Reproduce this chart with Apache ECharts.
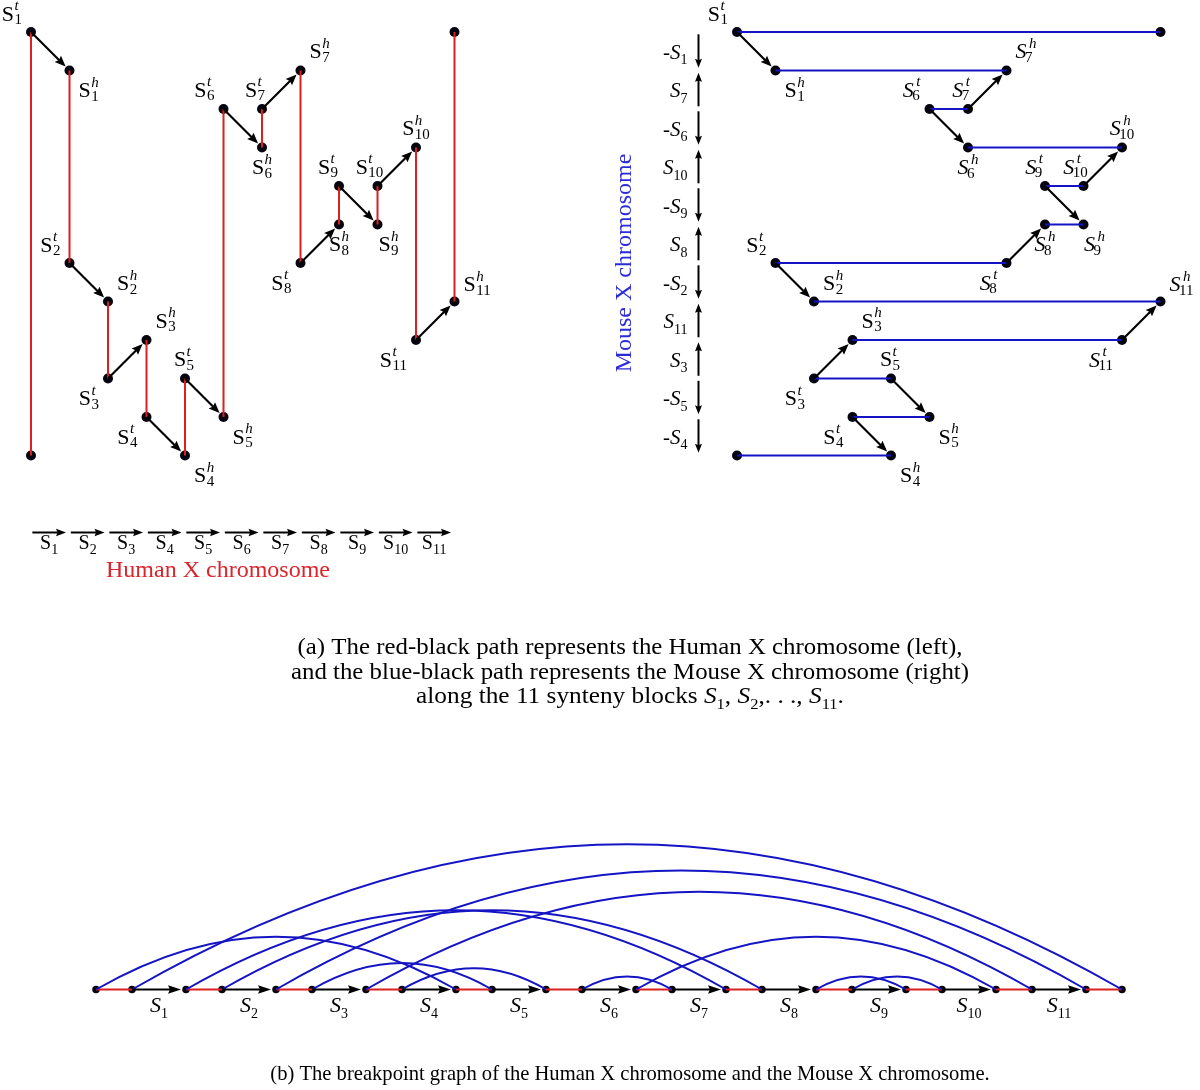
<!DOCTYPE html>
<html>
<head>
<meta charset="utf-8">
<title>Human vs Mouse X chromosome breakpoint graph</title>
<script src="https://cdn.jsdelivr.net/npm/echarts@6.0.0/dist/echarts.min.js"></script>
<style>
html,body{margin:0;padding:0;background:#ffffff;}
#chart{width:1200px;height:1090px;}
</style>
</head>
<body>
<div id="chart"></div>
<script>
// ---------------- data ----------------
const blocks = ['1','2','3','4','5','6','7','8','9','10','11'];
// row of each block's tail / head extremity in the top panels (column = block index / index+1)
const tailRow = [0, 6, 9, 10, 9, 2, 2, 6, 4, 4, 8];
const headRow = [1, 7, 8, 11, 10, 3, 1, 5, 5, 3, 7];
// telomere nodes [column, row]
const startNode = [0, 11];
const endNode = [11, 0];
// adjacencies (L = start telomere, R = end telomere)
const humanAdj = [['L','1t'],['1h','2t'],['2h','3t'],['3h','4t'],['4h','5t'],['5h','6t'],['6h','7t'],['7h','8t'],['8h','9t'],['9h','10t'],['10h','11t'],['11h','R']];
const mouseAdj = [['R','1t'],['1h','7h'],['7t','6t'],['6h','10h'],['10t','9t'],['9h','8h'],['8t','2t'],['2h','11h'],['11t','3h'],['3t','5t'],['5h','4t'],['4h','L']];
// signed block order along the mouse chromosome (top to bottom)
const mouseOrder = ['-1','7','-6','10','-9','8','-2','11','3','-5','-4'];
// texts
const humanTitle = 'Human X chromosome';
const mouseTitle = 'Mouse X chromosome';
const captionA1 = '(a) The red-black path represents the Human X chromosome (left),';
const captionA2 = 'and the blue-black path represents the Mouse X chromosome (right)';
const captionA3 = 'along the 11 synteny blocks ';
const captionB = '(b) The breakpoint graph of the Human X chromosome and the Mouse X chromosome.';

// ---------------- styles / layout ----------------
const FAM = '"Liberation Serif","Times New Roman",serif';
const RED = '#dc1f1f', BLUE = '#1414c4', RED_TXT = '#d9262c', BLUE_TXT = '#2a2ad8', NODE = '#05050f';
// label placement: [anchor, dx px, dy px] (anchor r = right edge, l = left edge, c = centre)
const labelPlace = {
  '1t':['r',-9,-17],'1h':['l',9,21],'2t':['r',-9,-17],'2h':['l',9,-17],'3t':['r',-9,21],'3h':['l',9,-18],
  '4t':['r',-9,21],'4h':['l',9,21],'5t':['c',-1,-18],'5h':['l',9,21],'6t':['r',-9,-18],'6h':['c',0,21],
  '7t':['c',-7,-18],'7h':['l',9,-18],'8t':['r',-9,21],'8h':['c',0,21],'9t':['c',-11,-18],'9h':['c',11,21],
  '10t':['c',-8,-18],'10h':['c',0,-18],'11t':['r',-9,21],'11h':['l',9,-16]
};

const mctx = document.createElement('canvas').getContext('2d');
function tw(t, size, st) { mctx.font = (st || 'normal') + ' ' + size + 'px ' + FAM; return mctx.measureText(t).width; }

function topPos(e) {
  if (e === 'L') return startNode;
  if (e === 'R') return endNode;
  const i = parseInt(e, 10) - 1;
  return e.endsWith('t') ? [i, tailRow[i]] : [i + 1, headRow[i]];
}
function extIdx(e) {
  if (e === 'L') return 0;
  if (e === 'R') return 2 * blocks.length + 1;
  const i = parseInt(e, 10);
  return e.endsWith('t') ? 2 * i - 1 : 2 * i;
}
const RED_LEN = 1, ARROW_LEN = 1.5;
function botX(e) { const n = extIdx(e); return (RED_LEN + ARROW_LEN) * Math.floor(n / 2) + (n % 2) * RED_LEN; }

const extremities = blocks.flatMap(b => [b + 't', b + 'h']);
const humanTop = humanAdj.map(([a, b]) => topPos(a).concat(topPos(b)));
const mouseTop = mouseAdj.map(([a, b]) => topPos(a).concat(topPos(b)));
const blockTop = blocks.map(b => topPos(b + 't').concat(topPos(b + 'h')));
const nodeTop = ['L', 'R'].concat(extremities).map(topPos);
const labelTop = extremities.map(topPos);
const rowArrows = blocks.map((b, i) => [i, 13, i + 1, 13]);
const mouseArrows = mouseOrder.map((s, k) => [-1, k, -1, k + 1, s.startsWith('-') ? 1 : -1]);
const humanBot = humanAdj.map(([a, b]) => [botX(a), 0, botX(b), 0]);
const mouseBot = mouseAdj.map(([a, b]) => [botX(a), 0, botX(b), 0]);
const blockBot = blocks.map(b => [botX(b + 't'), 0, botX(b + 'h'), 0]);
const nodeBot = ['L'].concat(extremities, ['R']).map(e => [botX(e), 0]);

// ---------------- render helpers ----------------
function P(api, i) { return api.coord([api.value(i), api.value(i + 1)]); }
function segRender(color, w) {
  return (params, api) => {
    const a = P(api, 0), b = P(api, 2);
    return { type: 'line', shape: { x1: a[0], y1: a[1], x2: b[0], y2: b[1] }, style: { stroke: color, lineWidth: w, fill: null } };
  };
}
function arrowShape(a, b, o) {
  const dx = b[0] - a[0], dy = b[1] - a[1], L = Math.hypot(dx, dy), ux = dx / L, uy = dy / L, px = -uy, py = ux;
  const sx = a[0] + ux * (o.s || 0), sy = a[1] + uy * (o.s || 0);
  const tx = b[0] - ux * (o.e || 0), ty = b[1] - uy * (o.e || 0);
  const bx = tx - ux * o.hl, by = ty - uy * o.hl, hw = o.hw / 2, n = o.hl * 0.15;
  return { type: 'group', children: [
    { type: 'line', shape: { x1: sx, y1: sy, x2: bx + ux * 2, y2: by + uy * 2 }, style: { stroke: '#000', lineWidth: o.w, fill: null } },
    { type: 'polygon', shape: { points: [[tx, ty], [bx + px * hw, by + py * hw], [bx + ux * n, by + uy * n], [bx - px * hw, by - py * hw]] }, style: { fill: '#000', stroke: null } }
  ] };
}
function arrowRender(o) { return (params, api) => arrowShape(P(api, 0), P(api, 2), o); }
function arcRender(params, api) {
  let a = P(api, 0), b = P(api, 2);
  if (a[0] > b[0]) { const t = a; a = b; b = t; }
  const d = b[0] - a[0], k = 0.3915 * d, c = Math.cos(Math.PI / 6) * k, s = Math.sin(Math.PI / 6) * k;
  return { type: 'bezierCurve', shape: { x1: a[0], y1: a[1], x2: b[0], y2: b[1], cpx1: a[0] + c, cpy1: a[1] - s, cpx2: b[0] - c, cpy2: b[1] - s },
    style: { stroke: BLUE, lineWidth: 2, fill: null } };
}
function nodeLabelRender(italicFrom) {
  return (params, api) => {
    const key = extremities[params.dataIndex];
    const p = api.coord([api.value(0), api.value(1)]);
    const num = parseInt(key, 10), sup = key.slice(-1);
    const it = num >= italicFrom;
    const pl = labelPlace[key];
    const BS = 22, SS = 15;
    const wS = tw('S', BS, it ? 'italic' : 'normal');
    const supOff = it ? 2.5 : 0.5, subOff = it ? -1.5 : 0.5;
    const wSup = tw(sup, SS, 'italic'), wSub = tw(String(num), SS, 'normal');
    const total = wS + Math.max(supOff + wSup, subOff + wSub);
    const x0 = pl[0] === 'r' ? p[0] + pl[1] - total : pl[0] === 'l' ? p[0] + pl[1] : p[0] + pl[1] - total / 2;
    const cy = p[1] + pl[2];
    const base = { fill: '#000', fontFamily: FAM, align: 'left', verticalAlign: 'middle' };
    return { type: 'group', children: [
      { type: 'text', style: Object.assign({ text: 'S', x: x0, y: cy, fontSize: BS, fontStyle: it ? 'italic' : 'normal' }, base) },
      { type: 'text', style: Object.assign({ text: sup, x: x0 + wS + supOff, y: cy - 8.5, fontSize: SS, fontStyle: 'italic' }, base) },
      { type: 'text', style: Object.assign({ text: String(num), x: x0 + wS + subOff, y: cy + 5.5, fontSize: SS, fontStyle: 'normal' }, base) }
    ] };
  };
}
function richS(size, sub, italic, color) {
  const c = color || '#000';
  return {
    n: { fontFamily: FAM, fontSize: size, fontStyle: 'normal', lineHeight: size + 8, verticalAlign: 'middle', fill: c, color: c },
    s: { fontFamily: FAM, fontSize: size, fontStyle: italic ? 'italic' : 'normal', lineHeight: size + 8, verticalAlign: 'middle', fill: c, color: c },
    b: { fontFamily: FAM, fontSize: sub, fontStyle: 'normal', lineHeight: sub + 4, verticalAlign: 'bottom', fill: c, color: c }
  };
}
function rowArrowRender(params, api) {
  const c0 = api.value(0), r = api.value(1), c1 = api.value(2);
  const a = api.coord([c0 + 0.035, r]), b = api.coord([c1 - 0.09, r]);
  const mid = api.coord([(c0 + c1) / 2 - 0.03, r]);
  return { type: 'group', children: [
    arrowShape(a, b, { w: 2, hl: 10, hw: 7.5 }),
    { type: 'text', style: { text: '{s|S}{b|' + blocks[params.dataIndex] + '}', rich: richS(20, 14, false), x: mid[0], y: mid[1] + 11, align: 'center', verticalAlign: 'middle' } }
  ] };
}
function mouseArrowRender(params, api) {
  const c = api.value(0), r0 = api.value(1), r1 = api.value(3), dir = api.value(4);
  const top = api.coord([c, r0 + 0.06]), bot = api.coord([c, r1 - 0.07]);
  const lab = api.coord([c, r0 + 0.55]);
  const s = mouseOrder[params.dataIndex];
  const neg = s.startsWith('-');
  const txt = (neg ? '{n|-}' : '') + '{s|S}{b|' + s.replace('-', '') + '}';
  return { type: 'group', children: [
    dir > 0 ? arrowShape(top, bot, { w: 2, hl: 9, hw: 7 }) : arrowShape(bot, top, { w: 2, hl: 9, hw: 7 }),
    { type: 'text', style: { text: txt, rich: richS(21, 14, true), x: lab[0] - 11, y: lab[1], align: 'right', verticalAlign: 'middle' } }
  ] };
}
function botLabelRender(params, api) {
  const a = P(api, 0), b = P(api, 2);
  return { type: 'text', style: { text: '{s|S}{b|' + blocks[params.dataIndex] + '}', rich: richS(22, 14, true), x: (a[0] + b[0]) / 2, y: a[1] + 17, align: 'center', verticalAlign: 'middle' } };
}

function custom(gi, data, renderItem, z) {
  return { type: 'custom', xAxisIndex: gi, yAxisIndex: gi, data: data, renderItem: renderItem, z: z, silent: true, clip: false,
    encode: { x: [0, 2], y: [1, 3] } };
}
function nodes(gi, data, size, z) {
  return { type: 'scatter', xAxisIndex: gi, yAxisIndex: gi, data: data, symbol: 'circle', symbolSize: size, z: z, silent: true,
    itemStyle: { color: NODE, opacity: 1 }, clip: false };
}

const chart = echarts.init(document.getElementById('chart'), null, { renderer: 'canvas', width: 1200, height: 1090 });
const capStyle = (size) => ({ fill: '#000', fontSize: size, fontFamily: FAM, align: 'center', verticalAlign: 'middle' });
const option = {
  animation: false,
  backgroundColor: '#ffffff',
  grid: [
    { left: 31, top: 32, width: 423.5, height: 519.75, containLabel: false, outerBoundsMode: 'none' },
    { left: 679.25, top: 32, width: 481.25, height: 423.5, containLabel: false, outerBoundsMode: 'none' },
    { left: 96, top: 809.5, width: 1026, height: 180, containLabel: false, outerBoundsMode: 'none' }
  ],
  xAxis: [
    { gridIndex: 0, type: 'value', min: 0, max: 11, show: false },
    { gridIndex: 1, type: 'value', min: -1.5, max: 11, show: false },
    { gridIndex: 2, type: 'value', min: 0, max: 28.5, show: false }
  ],
  yAxis: [
    { gridIndex: 0, type: 'value', min: 0, max: 13.5, inverse: true, show: false },
    { gridIndex: 1, type: 'value', min: 0, max: 11, inverse: true, show: false },
    { gridIndex: 2, type: 'value', min: 0, max: 5, show: false }
  ],
  series: [
    // left: human path
    nodes(0, nodeTop, 10, 2),
    custom(0, humanTop, segRender(RED, 2), 3),
    custom(0, blockTop, arrowRender({ w: 2.2, hl: 11, hw: 9, e: 5.5 }), 4),
    custom(0, labelTop, nodeLabelRender(99), 5),
    custom(0, rowArrows, rowArrowRender, 5),
    // right: mouse path
    nodes(1, nodeTop, 10, 2),
    custom(1, mouseTop, segRender(BLUE, 2), 3),
    custom(1, blockTop, arrowRender({ w: 2.2, hl: 11, hw: 9, e: 5.5 }), 4),
    custom(1, labelTop, nodeLabelRender(6), 5),
    custom(1, mouseArrows, mouseArrowRender, 5),
    // bottom: breakpoint graph
    nodes(2, nodeBot, 7.5, 2),
    custom(2, humanBot, segRender(RED, 2), 3),
    custom(2, blockBot, arrowRender({ w: 2, hl: 13, hw: 8.5, e: 5 }), 4),
    custom(2, mouseBot, arcRender, 3),
    custom(2, blockBot, botLabelRender, 5)
  ],
  graphic: [
    { type: 'text', x: 218, y: 571, silent: true, style: { text: humanTitle, fill: RED_TXT, fontSize: 24, fontFamily: FAM, align: 'center', verticalAlign: 'middle' } },
    { type: 'text', x: 625, y: 263, rotation: Math.PI / 2, silent: true, style: { text: mouseTitle, fill: BLUE_TXT, fontSize: 24, fontFamily: FAM, align: 'center', verticalAlign: 'middle' } },
    { type: 'text', x: 630, y: 648, scaleX: 1.08, silent: true, style: Object.assign({ text: captionA1 }, capStyle(23)) },
    { type: 'text', x: 630, y: 673, scaleX: 1.08, silent: true, style: Object.assign({ text: captionA2 }, capStyle(23)) },
    { type: 'text', x: 630, y: 697, scaleX: 1.1, silent: true, style: { text: '{n|' + captionA3 + '}{s|S}{b|1}{n|, }{s|S}{b|2}{n|,. . ., }{s|S}{b|11}{n|.}', rich: richS(23, 15, true), align: 'center', verticalAlign: 'middle' } },
    { type: 'text', x: 630, y: 1075, silent: true, style: Object.assign({ text: captionB }, capStyle(20.6)) }
  ]
};
chart.setOption(option);
</script>
</body>
</html>
